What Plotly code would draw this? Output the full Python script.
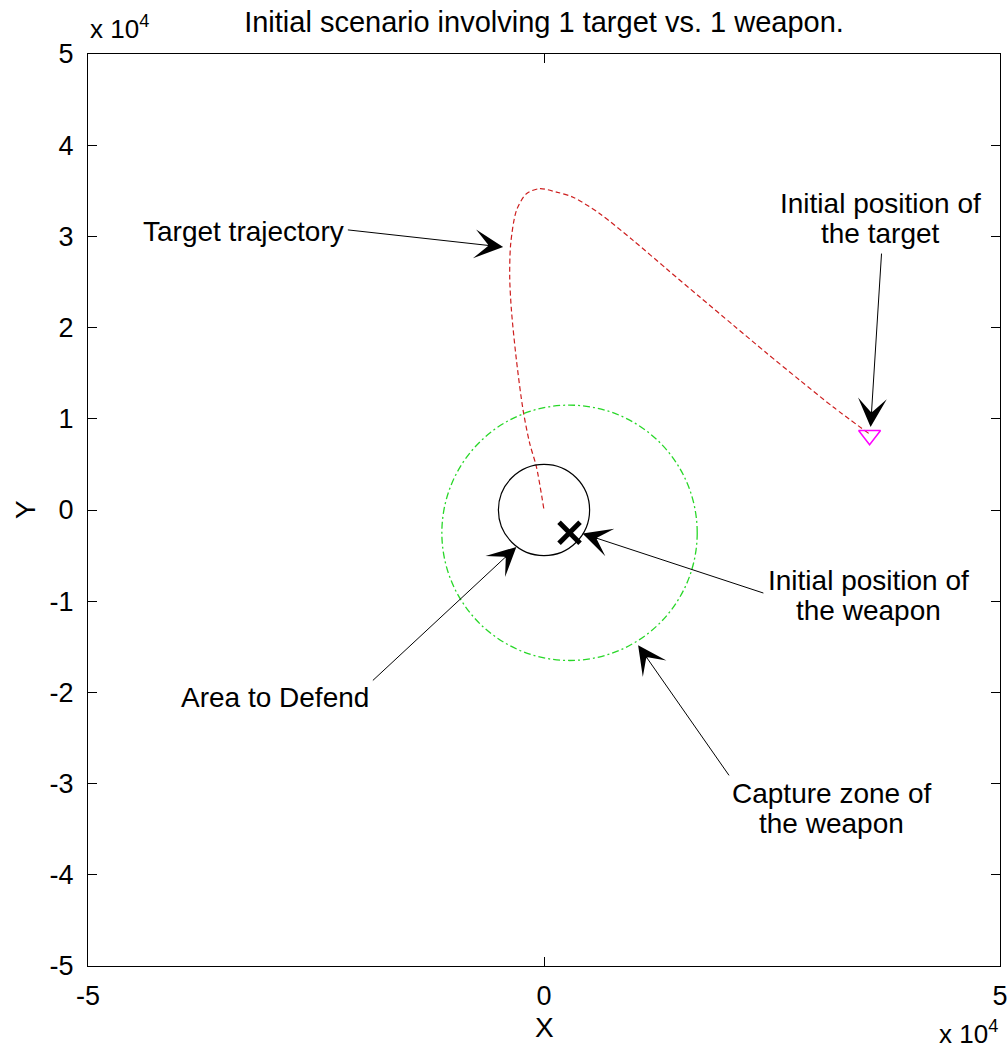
import plotly.graph_objects as go

# Target trajectory (m), from initial target position to the defended point
traj_x = [35600, 31710, 28060, 24400, 20740, 17090, 13430, 9770, 6120, 3190, 1370,
          -470, -1930, -3020, -3650, -3760, -3570, -3020, -2290, -1560, -830, 0]
traj_y = [8400, 11290, 14220, 17210, 20280, 23350, 26450, 29560, 32490, 34300, 34860,
          35240, 34680, 32850, 29200, 25540, 21890, 16410, 10930, 7280, 4720, 0]

# Initial positions
target_pos = (35700, 8200)
weapon_pos = (2800, -2500)

# Area to defend and weapon capture zone (centre, radius)
defend_center = (0, 0)
defend_radius = 5000
capture_center = weapon_pos
capture_radius = 14000

tick_vals = [-50000, -40000, -30000, -20000, -10000, 0, 10000, 20000, 30000, 40000, 50000]
tick_text = ["-5", "-4", "-3", "-2", "-1", "0", "1", "2", "3", "4", "5"]
x_tick_vals = [-50000, 0, 50000]
x_tick_text = ["-5", "0", "5"]

FONT = "Liberation Sans, Arial, sans-serif"

fig = go.Figure()

fig.add_trace(go.Scatter(
    x=traj_x, y=traj_y, mode="lines",
    line=dict(color="rgb(205,30,30)", width=1.2, dash="5px,3px", shape="spline", smoothing=0.8),
    hoverinfo="skip", showlegend=False))

fig.add_trace(go.Scatter(
    x=[target_pos[0]], y=[target_pos[1]], mode="markers",
    marker=dict(symbol="triangle-down-open", size=19, color="#ff00ff",
                line=dict(width=1.5, color="#ff00ff")),
    showlegend=False))

fig.add_trace(go.Scatter(
    x=[weapon_pos[0]], y=[weapon_pos[1]], mode="markers",
    marker=dict(symbol="x-thin", size=21, color="black",
                line=dict(width=5, color="black")),
    showlegend=False))

shapes = [
    dict(type="circle", xref="x", yref="y",
         x0=defend_center[0] - defend_radius, x1=defend_center[0] + defend_radius,
         y0=defend_center[1] - defend_radius, y1=defend_center[1] + defend_radius,
         line=dict(color="black", width=1.2)),
    dict(type="circle", xref="x", yref="y",
         x0=capture_center[0] - capture_radius, x1=capture_center[0] + capture_radius,
         y0=capture_center[1] - capture_radius, y1=capture_center[1] + capture_radius,
         line=dict(color="rgb(40,215,40)", width=1.3, dash="7px,3px,2px,3px")),
]

# Arrows: (tip_x, tip_y, tail_x, tail_y)
arrows = [
    (-4480, 28830, -21670, 30730),
    (35810, 9090, 37020, 28280),
    (4220, -2580, 24220, -9160),
    (-3030, -4050, -18930, -18840),
    (10320, -14830, 20400, -29260),
]

# Text labels: (text, x, y, xanchor)
labels = [
    ("Target trajectory", -21750, 30550, "right"),
    ("Initial position of", 36940, 33620, "center"),
    ("the target", 36940, 30330, "center"),
    ("Initial position of", 35630, -7700, "center"),
    ("the weapon", 35630, -10990, "center"),
    ("Area to Defend", -29450, -20520, "center"),
    ("Capture zone of", 31550, -31040, "center"),
    ("the weapon", 31550, -34330, "center"),
]

annotations = []
for tx, ty, ax, ay in arrows:
    annotations.append(dict(
        x=tx, y=ty, ax=ax, ay=ay, xref="x", yref="y", axref="x", ayref="y",
        text="", showarrow=True, arrowhead=3, arrowsize=4.8, arrowwidth=1,
        arrowcolor="black", standoff=0, startstandoff=0))

for text, lx, ly, anchor in labels:
    annotations.append(dict(
        x=lx, y=ly, xref="x", yref="y", text=text, showarrow=False,
        xanchor=anchor, yanchor="middle",
        font=dict(family=FONT, size=28, color="black")))

# Axis labels and exponent multipliers
annotations += [
    dict(text="X", x=0.5, y=0, xref="paper", yref="paper", xanchor="center", yanchor="middle",
         yshift=-61, showarrow=False, font=dict(family=FONT, size=28, color="black")),
    dict(text="Y", x=0, y=0.5, xref="paper", yref="paper", xanchor="center", yanchor="middle",
         xshift=-63, textangle=-90, showarrow=False, font=dict(family=FONT, size=28, color="black")),
    dict(text="x 10<sup>4</sup>", x=0, y=1, xref="paper", yref="paper", xanchor="left",
         yanchor="bottom", yshift=8, showarrow=False,
         font=dict(family=FONT, size=26, color="black")),
    dict(text="x 10<sup>4</sup>", x=1, y=0, xref="paper", yref="paper", xanchor="right",
         yanchor="top", yshift=-48, showarrow=False,
         font=dict(family=FONT, size=26, color="black")),
]

axis_common = dict(
    showgrid=False, zeroline=False, showline=True, linecolor="black", linewidth=1,
    mirror="allticks", ticks="inside", ticklen=9, tickcolor="black", tickwidth=1,
    tickfont=dict(family=FONT, size=27, color="black"), automargin=False,
)

fig.update_layout(
    width=1008, height=1052, autosize=False,
    margin=dict(l=88, r=8, t=54, b=86, autoexpand=False),
    paper_bgcolor="white", plot_bgcolor="white",
    title=dict(text="Initial scenario involving 1 target vs. 1 weapon.",
               x=0.5, xref="paper", xanchor="center", y=1 - 22 / 1052, yanchor="middle",
               automargin=False,
               font=dict(family=FONT, size=29, color="black")),
    xaxis=dict(range=[-50000, 50000], tickvals=x_tick_vals, ticktext=x_tick_text,
               ticklabelstandoff=6, **axis_common),
    yaxis=dict(range=[-50000, 50000], tickvals=tick_vals, ticktext=tick_text,
               ticklabelstandoff=8, **axis_common),
    shapes=shapes,
    annotations=annotations,
    showlegend=False,
)

fig.write_html("out.html")
